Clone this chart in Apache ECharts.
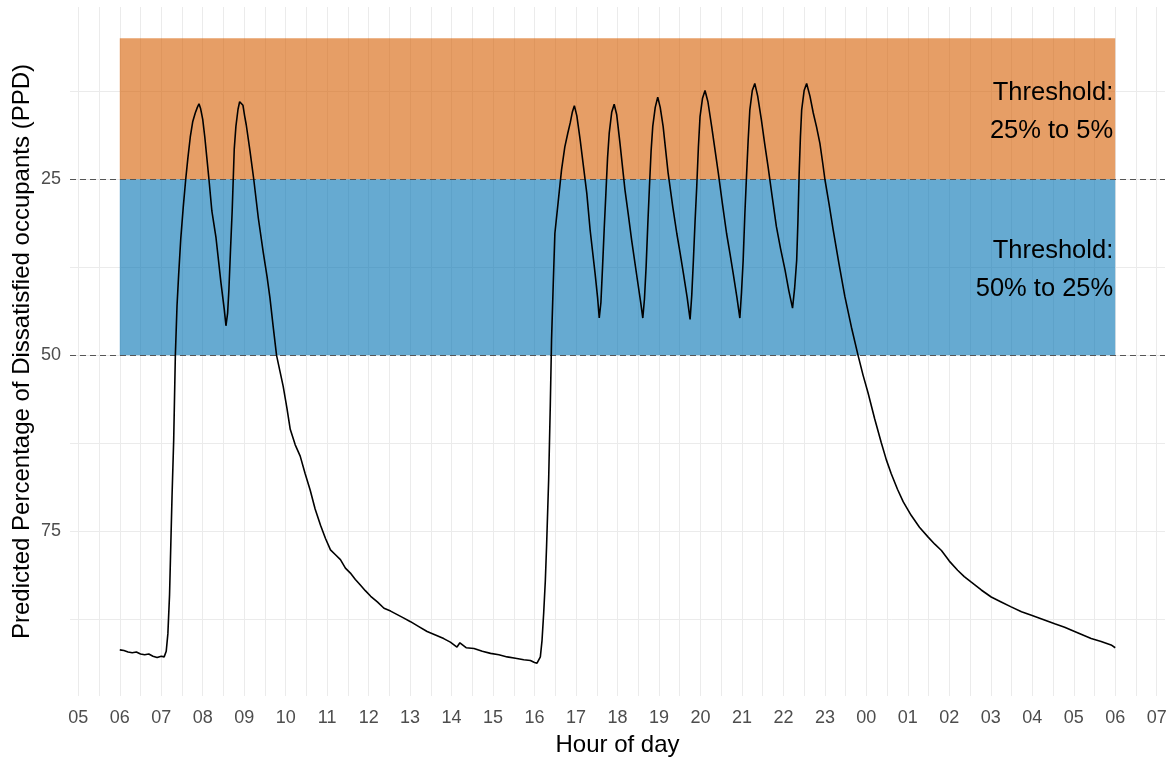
<!DOCTYPE html>
<html>
<head>
<meta charset="utf-8">
<title>Predicted Percentage of Dissatisfied occupants</title>
<script src="https://cdn.jsdelivr.net/npm/echarts@6/dist/echarts.min.js"></script>
<style>
  html, body { margin: 0; padding: 0; background: #ffffff; }
  #chart { width: 1174px; height: 758px; }
</style>
</head>
<body>
<div id="chart"></div>
<script>
// Hour of day (hours past midnight of the first day; 24+ means the next day)
// and predicted percentage of dissatisfied occupants (PPD), split by period.
const earlyHours = [6.00, 6.10, 6.20, 6.30, 6.40, 6.50, 6.60, 6.70, 6.80, 6.90, 7.00, 7.07, 7.12];
const earlyPPD   = [91.8, 91.9, 92.1, 92.2, 92.1, 92.4, 92.5, 92.4, 92.7, 92.9, 92.7, 92.8, 92.0];

const morningHours = [7.16, 7.20, 7.23, 7.26, 7.30, 7.34, 7.38, 7.42, 7.47, 7.53, 7.59, 7.64, 7.70, 7.76, 7.82, 7.87, 7.91, 7.95,
  8.00, 8.05, 8.10, 8.15, 8.22, 8.32, 8.44, 8.52, 8.56, 8.60, 8.63, 8.67, 8.71, 8.76, 8.80, 8.85, 8.89, 8.93, 8.97,
  9.01, 9.05, 9.14, 9.23, 9.34, 9.46, 9.55, 9.62, 9.70, 9.78, 9.86, 9.94];
const morningPPD = [89.5, 84.0, 77.0, 70.0, 62.0, 50.0, 43.0, 38.5, 33.5, 29.0, 25.0, 22.1, 19.0, 16.8, 15.6, 14.8, 14.3, 15.0,
  16.5, 19.0, 22.0, 25.0, 29.5, 33.3, 39.7, 43.5, 45.8, 44.0, 40.8, 35.0, 29.5, 20.7, 17.5, 15.1, 14.0, 13.8, 14.5,
  16.0, 17.3, 21.0, 25.0, 30.5, 35.4, 38.8, 41.8, 46.0, 50.0, 52.2, 54.4];

const middayHours = [10.03, 10.11, 10.23, 10.35, 10.47, 10.59, 10.71, 10.84, 10.96, 11.08, 11.20, 11.32, 11.44, 11.56, 11.68,
  11.80, 11.92, 12.05, 12.21, 12.37, 12.53, 12.69, 12.85, 13.01, 13.21, 13.41, 13.61, 13.81, 13.97, 14.13, 14.20, 14.35,
  14.54, 14.74, 14.94, 15.14, 15.34, 15.54, 15.74, 15.90, 16.00, 16.06, 16.10];
const middayPPD = [57.5, 60.5, 62.7, 64.3, 66.8, 69.1, 71.8, 74.1, 76.0, 77.6, 78.3, 79.0, 80.2, 80.9, 81.8,
  82.6, 83.4, 84.2, 85.0, 85.9, 86.3, 86.8, 87.3, 87.8, 88.5, 89.2, 89.7, 90.2, 90.7, 91.4, 90.8, 91.5,
  91.6, 92.0, 92.3, 92.5, 92.8, 93.0, 93.2, 93.3, 93.6, 93.7, 93.5];

const eveningHours = [16.14, 16.18, 16.22, 16.26, 16.29, 16.34, 16.38, 16.41, 16.45, 16.49, 16.57, 16.65, 16.73, 16.80, 16.86, 16.91, 16.96,
  17.02, 17.10, 17.18, 17.26, 17.34, 17.46, 17.52, 17.56, 17.60, 17.64, 17.68, 17.72, 17.76, 17.80, 17.86, 17.92,
  17.98, 18.06, 18.18, 18.26, 18.34, 18.48, 18.56, 18.61, 18.65, 18.69, 18.73, 18.77, 18.81, 18.85, 18.91, 18.97,
  19.03, 19.10, 19.22, 19.33, 19.43, 19.51, 19.59, 19.68, 19.75, 19.79, 19.83, 19.87, 19.91, 19.95, 19.99, 20.05, 20.11,
  20.18, 20.27, 20.35, 20.43, 20.53, 20.63, 20.71, 20.79, 20.88, 20.95, 20.99, 21.03, 21.07, 21.11, 21.15, 21.19, 21.25, 21.31,
  21.38, 21.47, 21.55, 21.63, 21.73, 21.83, 21.93, 22.04, 22.13, 22.22, 22.27, 22.32, 22.35, 22.38, 22.41, 22.44, 22.50, 22.56,
  22.64, 22.72, 22.80, 22.88, 22.95];
const eveningPPD = [92.8, 90.5, 86.6, 82.0, 77.1, 67.7, 57.0, 47.8, 40.0, 32.7, 28.2, 23.7, 20.4, 18.5, 17.0, 15.5, 14.55,
  16.0, 19.4, 23.2, 27.0, 32.2, 38.4, 41.8, 44.7, 42.5, 37.4, 32.0, 27.0, 22.0, 18.5, 15.5, 14.35,
  15.8, 19.9, 26.5, 30.0, 33.6, 39.3, 42.5, 44.7, 42.0, 37.4, 31.5, 26.1, 21.0, 17.5, 14.8, 13.35,
  14.8, 17.5, 24.1, 28.8, 32.7, 35.5, 38.4, 41.8, 44.9, 41.5, 36.5, 31.0, 26.1, 20.5, 16.1, 13.5, 12.4,
  14.0, 17.5, 20.8, 24.1, 28.5, 32.7, 35.5, 38.4, 41.8, 44.7, 41.0, 36.5, 30.0, 24.6, 19.5, 15.2, 12.4, 11.4,
  13.2, 16.6, 20.0, 23.2, 27.5, 31.7, 34.8, 37.9, 40.8, 43.3, 40.5, 36.5, 31.0, 24.1, 19.0, 15.2, 12.4, 11.4,
  13.2, 15.6, 17.6, 19.9, 22.8];

const nightHours = [23.00, 23.10, 23.20, 23.34, 23.48, 23.64, 23.80, 23.92, 24.04, 24.20, 24.36, 24.48, 24.60, 24.75, 24.89,
  25.08, 25.28, 25.49, 25.65, 25.81, 26.00, 26.20, 26.36, 26.53, 26.77, 27.01, 27.25, 27.49, 27.74, 27.98,
  28.26, 28.54, 28.78, 29.02, 29.22, 29.42, 29.66, 29.90, 30.00];
const nightPPD = [25.0, 28.5, 32.2, 37.0, 41.6, 46.0, 50.0, 52.8, 55.3, 59.0, 62.4, 64.8, 66.8, 69.0, 70.8,
  72.7, 74.4, 75.8, 76.8, 77.7, 79.2, 80.5, 81.4, 82.2, 83.3, 84.3, 85.0, 85.7, 86.4, 86.9,
  87.5, 88.1, 88.6, 89.2, 89.7, 90.2, 90.6, 91.1, 91.5];

// Comfort threshold bands: [upper PPD, lower PPD], drawn across the measured day.
const bandStart = 6;
const bandEnd = 30;
const upperBand = [5, 25];
const lowerBand = [25, 50];
const upperBandLabel = 'Threshold:\n25% to 5%';
const lowerBandLabel = 'Threshold:\n50% to 25%';

// Axis ticks
const hourLabels = [5, 6, 7, 8, 9, 10, 11, 12, 13, 14, 15, 16, 17, 18, 19, 20, 21, 22, 23, 24, 25, 26, 27, 28, 29, 30, 31];
const hourGrid = [5, 5.5, 6, 6.5, 7, 7.5, 8, 8.5, 9, 9.5, 10, 10.5, 11, 11.5, 12, 12.5, 13, 13.5, 14, 14.5, 15, 15.5,
  16, 16.5, 17, 17.5, 18, 18.5, 19, 19.5, 20, 20.5, 21, 21.5, 22, 22.5, 23, 23.5, 24, 24.5, 25, 25.5, 26, 26.5,
  27, 27.5, 28, 28.5, 29, 29.5, 30, 30.5, 31];
const ppdLabels = [25, 50, 75];
const ppdGrid = [12.5, 25, 37.5, 50, 62.5, 75, 87.5];
const thresholdLines = [25, 50];

const allHours = [].concat(earlyHours, morningHours, middayHours, eveningHours, nightHours);
const allPPD = [].concat(earlyPPD, morningPPD, middayPPD, eveningPPD, nightPPD);
const lineData = allHours.map((h, i) => [h, allPPD[i]]);

const FONT = '"Liberation Sans", Arial, Helvetica, sans-serif';
const hh = v => String(((Math.round(v) % 24) + 24) % 24).padStart(2, '0');

const chart = echarts.init(document.getElementById('chart'), null, { renderer: 'canvas' });

chart.setOption({
  animation: false,
  backgroundColor: '#ffffff',
  textStyle: { fontFamily: FONT },
  grid: { left: 70, right: 9, top: 7, bottom: 62, containLabel: false, outerBoundsMode: 'none' },
  xAxis: {
    type: 'value',
    min: 4.8,
    max: 31.2,
    name: 'Hour of day',
    nameLocation: 'middle',
    nameGap: 37,
    nameMoveOverlap: false,
    nameTextStyle: { fontSize: 24, color: '#000000', fontFamily: FONT },
    axisLine: { show: false },
    axisTick: { show: false, customValues: hourGrid },
    axisLabel: {
      customValues: hourLabels,
      formatter: hh,
      fontSize: 18,
      color: '#4d4d4d',
      margin: 13,
      fontFamily: FONT
    },
    splitLine: { show: true, lineStyle: { color: '#ebebeb', width: 1 } }
  },
  yAxis: {
    type: 'value',
    inverse: true,
    min: 0.55,
    max: 98.35,
    name: 'Predicted Percentage of Dissatisfied occupants (PPD)',
    nameLocation: 'middle',
    nameGap: 36,
    nameMoveOverlap: false,
    nameTextStyle: { fontSize: 24, color: '#000000', fontFamily: FONT },
    axisLine: { show: false },
    axisTick: { show: false, customValues: ppdGrid },
    axisLabel: {
      customValues: ppdLabels,
      fontSize: 18,
      color: '#4d4d4d',
      margin: 9,
      fontFamily: FONT
    },
    splitLine: { show: true, lineStyle: { color: '#ebebeb', width: 1 } }
  },
  series: [
    {
      name: 'bands',
      type: 'line',
      data: [],
      z: 1,
      silent: true,
      markArea: {
        silent: true,
        data: [
          [
            {
              xAxis: bandStart, yAxis: upperBand[0],
              itemStyle: { color: 'rgba(213, 94, 0, 0.6)' },
              label: { formatter: upperBandLabel }
            },
            { xAxis: bandEnd, yAxis: upperBand[1] }
          ],
          [
            {
              xAxis: bandStart, yAxis: lowerBand[0],
              itemStyle: { color: 'rgba(0, 114, 178, 0.6)' },
              label: { formatter: lowerBandLabel }
            },
            { xAxis: bandEnd, yAxis: lowerBand[1] }
          ]
        ],
        label: {
          show: true,
          position: 'insideRight',
          distance: 2,
          offset: [0, 3],
          fontSize: 25.5,
          lineHeight: 38,
          color: '#000000',
          align: 'right',
          fontFamily: FONT
        }
      },
      markLine: {
        silent: true,
        symbol: 'none',
        label: { show: false },
        lineStyle: { color: '#555555', type: [6, 4], width: 1.2 },
        data: thresholdLines.map(v => ({ yAxis: v }))
      }
    },
    {
      name: 'PPD',
      type: 'line',
      data: lineData,
      z: 5,
      showSymbol: false,
      symbol: 'none',
      lineStyle: { color: '#000000', width: 1.6 },
      silent: true
    }
  ]
});
</script>
</body>
</html>
